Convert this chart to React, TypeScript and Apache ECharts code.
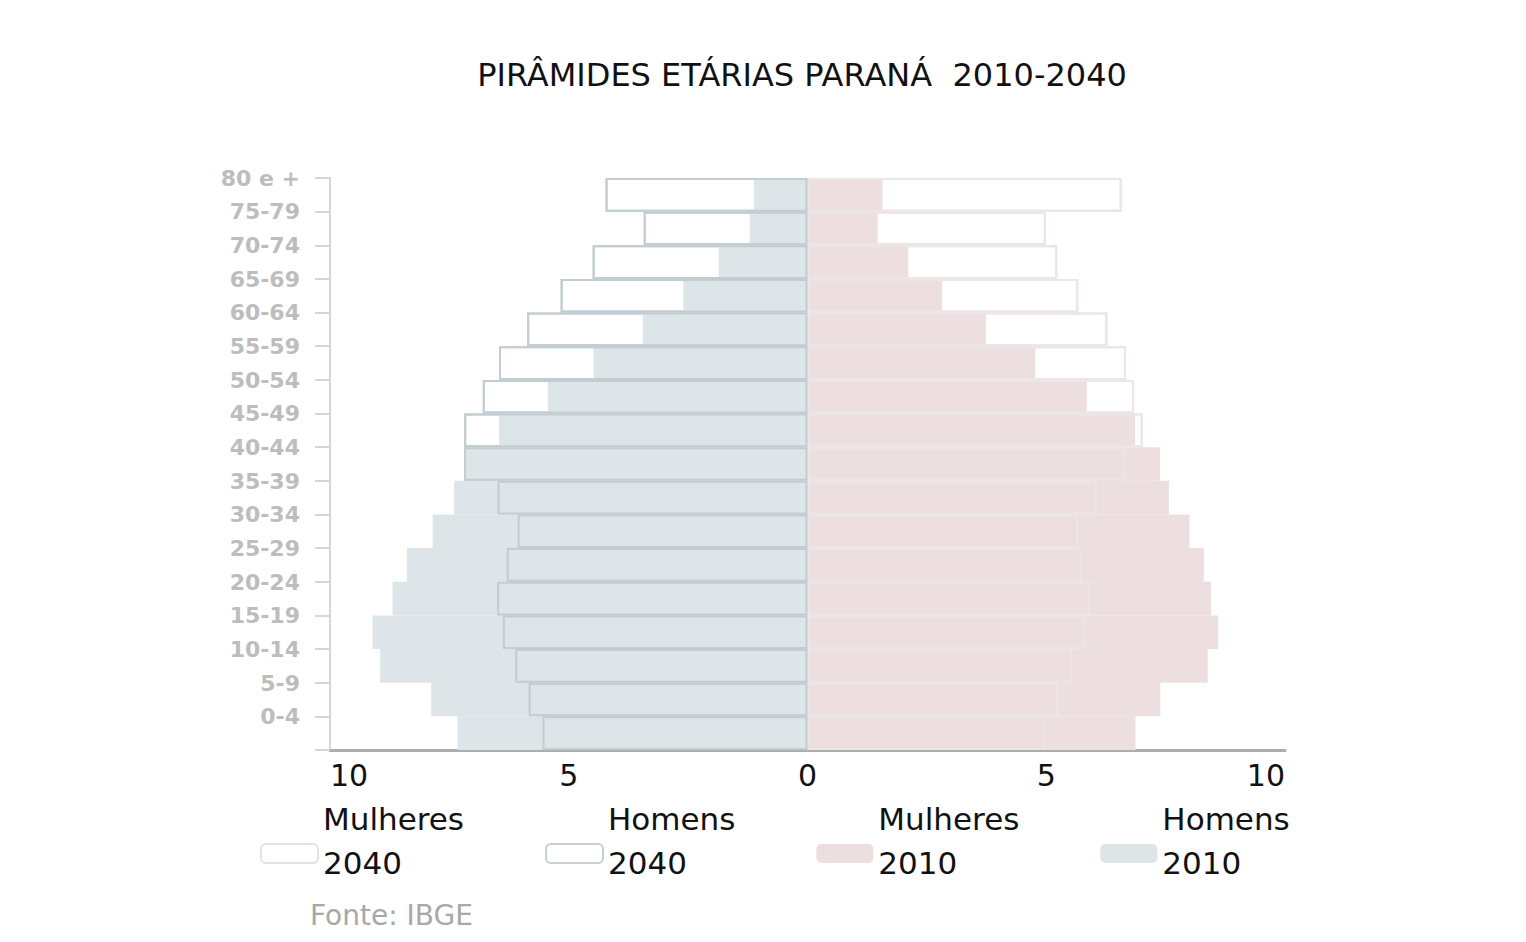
import React, { useEffect, useRef } from "react";
import * as echarts from "echarts";

const ageGroups = ["80 e +", "75-79", "70-74", "65-69", "60-64", "55-59", "50-54", "45-49", "40-44", "35-39", "30-34", "25-29", "20-24", "15-19", "10-14", "5-9", "0-4"];
const homens2010 = [1.12, 1.21, 1.86, 2.6, 3.45, 4.48, 5.44, 6.46, 7.15, 7.4, 7.85, 8.39, 8.69, 9.11, 8.95, 7.88, 7.33];
const homens2040 = [4.23, 3.43, 4.5, 5.17, 5.87, 6.46, 6.8, 7.19, 7.19, 6.49, 6.07, 6.3, 6.5, 6.38, 6.12, 5.84, 5.55];
const mulheres2010 = [1.57, 1.47, 2.11, 2.82, 3.74, 4.77, 5.85, 6.86, 7.38, 7.57, 8.0, 8.3, 8.45, 8.6, 8.38, 7.39, 6.87];
const mulheres2040 = [6.58, 4.99, 5.23, 5.67, 6.28, 6.67, 6.84, 7.02, 6.65, 6.06, 5.66, 5.74, 5.92, 5.8, 5.55, 5.25, 4.99];
const xTicks = { min: -10, max: 10, interval: 5 };
const legendNames = ["Mulheres 2040", "Homens 2040", "Mulheres 2010", "Homens 2010"];

const FONT = "'DejaVu Sans', 'Open Sans', sans-serif";

export default function App() {
  const ref = useRef<HTMLDivElement>(null);
  useEffect(() => {
    if (!ref.current) return;
    const chart = echarts.init(ref.current, undefined, { renderer: "svg" });
    const neg = (a: number[]) => a.map((v) => -v);
    const common = { type: "bar", barGap: "-100%", barCategoryGap: "0%" };
    chart.setOption({
      animation: false,
      backgroundColor: "#ffffff",
      grid: { left: 330, right: 241, top: 178, bottom: 192, containLabel: false },
      xAxis: {
        type: "value",
        min: xTicks.min,
        max: xTicks.max,
        interval: xTicks.interval,
        axisLine: { show: true, onZero: false, lineStyle: { color: "#adadad", width: 3 } },
        axisTick: { show: false },
        splitLine: { show: false },
        axisLabel: {
          formatter: (v: number) => String(Math.abs(v)),
          color: "#111",
          fontSize: 30,
          fontFamily: FONT,
          margin: 10,
          alignMinLabel: "left",
          alignMaxLabel: "right",
        },
      },
      yAxis: {
        type: "category",
        data: ageGroups,
        inverse: true,
        axisLine: { show: true, onZero: false, lineStyle: { color: "#d6d6d6", width: 2 } },
        axisTick: { show: true, length: 15, lineStyle: { color: "#d6d6d6", width: 2 } },
        axisLabel: {
          interval: 0,
          showMinLabel: true,
          showMaxLabel: true,
          hideOverlap: false,
          color: "#bdbdbd",
          fontSize: 22,
          fontWeight: "bold",
          fontFamily: "'DejaVu Sans', 'Liberation Sans', sans-serif",
          margin: 30,
          verticalAlign: "bottom",
          lineHeight: 33,
        },
      },
      legend: {
        data: legendNames,
        left: 255,
        top: 798,
        itemWidth: 57,
        itemHeight: 19,
        itemGap: 81,
        selectedMode: false,
        formatter: (n: string) => {
          const [a, b] = n.split(" ");
          return `{a|${a}}\n{a|${b}}\n{b| }`;
        },
        textStyle: {
          color: "#111",
          fontFamily: FONT,
          fontSize: 31,
          rich: {
            a: { fontSize: 31, lineHeight: 44, color: "#111", fontFamily: FONT },
            b: { fontSize: 2, lineHeight: 26 },
          },
        },
      },
      series: [
        { ...common, name: "Mulheres 2040", data: mulheres2040, z: 1, itemStyle: { color: "#ffffff", borderColor: "#e6e1e1", borderWidth: 2 } },
        { ...common, name: "Homens 2040", data: neg(homens2040), z: 1, itemStyle: { color: "#ffffff", borderColor: "#c5d0d4", borderWidth: 2 } },
        { ...common, name: "Mulheres 2010", data: mulheres2010, z: 2, itemStyle: { color: "#eddfe0" } },
        { ...common, name: "Homens 2010", data: neg(homens2010), z: 2, itemStyle: { color: "#dee5e8" } },
        { ...common, name: "m2040o", data: mulheres2040, z: 3, silent: true, itemStyle: { color: "rgba(0,0,0,0)", borderColor: "#ece6e6", borderWidth: 2 } },
        { ...common, name: "h2040o", data: neg(homens2040), z: 3, silent: true, itemStyle: { color: "rgba(0,0,0,0)", borderColor: "#c2cdd1", borderWidth: 2 } },
      ],
      graphic: [
        {
          type: "text",
          x: 802,
          y: 75,
          style: { text: "PIRÂMIDES ETÁRIAS PARANÁ  2010-2040", fontSize: 32, fontFamily: FONT, fill: "#111", textAlign: "center", textVerticalAlign: "middle" },
        },
        {
          type: "text",
          x: 310,
          y: 915,
          style: { text: "Fonte: IBGE", fontSize: 28, fontFamily: FONT, fill: "#a8a8a8", textAlign: "left", textVerticalAlign: "middle" },
        },
      ],
    });
    return () => chart.dispose();
  }, []);
  return <div ref={ref} style={{ position: "fixed", left: 0, top: 0, width: 1526, height: 942 }} />;
}
